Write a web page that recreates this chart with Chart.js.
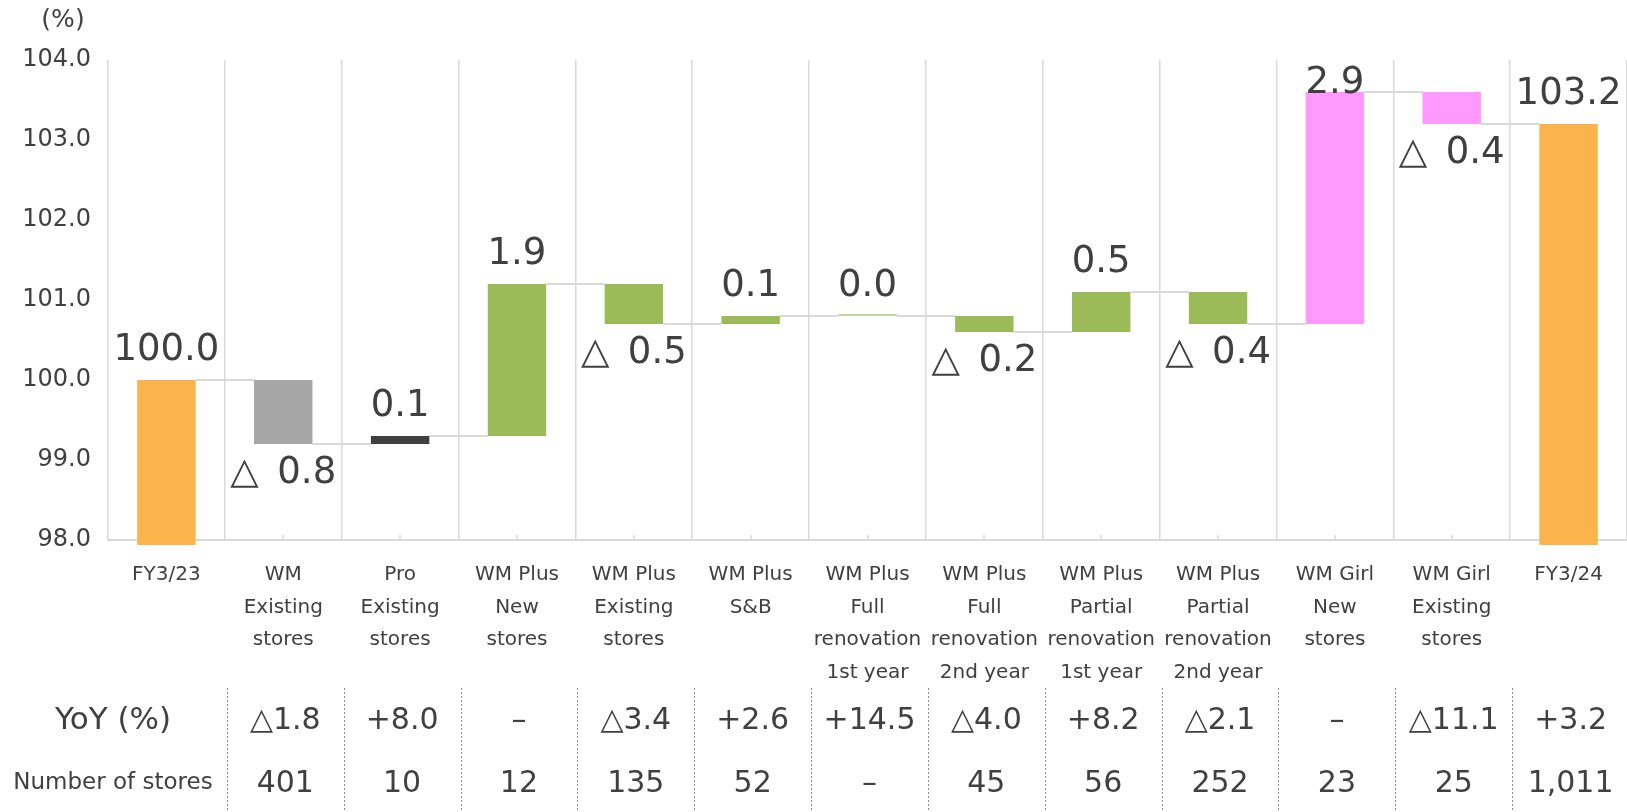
<!DOCTYPE html>
<html>
<head>
<meta charset="utf-8">
<script src="https://cdn.jsdelivr.net/npm/chart.js@4/dist/chart.umd.min.js"></script>
<style>
    body { margin: 0; background: #ffffff; }
    #wrap { position: relative; width: 1627px; height: 812px; }
</style>
</head>
<body>
<div id="wrap"><canvas id="myChartWaterfall"></canvas></div>
<script>
var categories = [
    ['FY3/23'],
    ['WM', 'Existing', 'stores'],
    ['Pro', 'Existing', 'stores'],
    ['WM Plus', 'New', 'stores'],
    ['WM Plus', 'Existing', 'stores'],
    ['WM Plus', 'S&B'],
    ['WM Plus', 'Full', 'renovation', '1st year'],
    ['WM Plus', 'Full', 'renovation', '2nd year'],
    ['WM Plus', 'Partial', 'renovation', '1st year'],
    ['WM Plus', 'Partial', 'renovation', '2nd year'],
    ['WM Girl', 'New', 'stores'],
    ['WM Girl', 'Existing', 'stores'],
    ['FY3/24']
];
var startValue = 100.0;
var changes = [-0.8, 0.1, 1.9, -0.5, 0.1, 0.0, -0.2, 0.5, -0.4, 2.9, -0.4];
var endValue = 103.2;
var barColors = ['#FBB34C', '#A6A6A6', '#404040', '#9BBB59', '#9BBB59', '#9BBB59', '#C4D79B',
    '#9BBB59', '#9BBB59', '#9BBB59', '#FF99FF', '#FF99FF', '#FBB34C'];
var yTicks = [98, 99, 100, 101, 102, 103, 104];
var yoyValues = ['△1.8', '+8.0', '–', '△3.4', '+2.6', '+14.5', '△4.0', '+8.2', '△2.1', '–', '△11.1', '+3.2'];
var storeCounts = ['401', '10', '12', '135', '52', '–', '45', '56', '252', '23', '25', '1,011'];

// waterfall: floating bars + running level after each bar
var floating = [[0, startValue]];
var levels = [startValue];
var texts = [startValue.toFixed(1)];
var below = [false];
var level = startValue;
changes.forEach(function (c) {
    floating.push([level, level + c]);
    level = Math.round((level + c) * 10) / 10;
    levels.push(level);
    texts.push(c < 0 ? '△\u2002' + Math.abs(c).toFixed(1) : c.toFixed(1));
    below.push(c < 0);
});
floating.push([0, endValue]);
levels.push(endValue);
texts.push(endValue.toFixed(1));
below.push(false);

var FONT = "'DejaVu Sans', Verdana, sans-serif";
var TEXT = '#404040';

const connectorPlugin = {
    id: 'connectors',
    beforeDatasetsDraw(chart) {
        const meta = chart.getDatasetMeta(0);
        const x = chart.scales.x;
        const y = chart.scales.y;
        const c = chart.ctx;
        c.save();
        c.strokeStyle = '#D9D9D9';
        c.lineWidth = 2;
        for (let i = 0; i < meta.data.length - 1; i++) {
            const a = meta.data[i], b = meta.data[i + 1];
            const py = Math.round(y.getPixelForValue(levels[i]));
            c.beginPath();
            c.moveTo(a.x + a.width / 2, py);
            c.lineTo(b.x - b.width / 2, py);
            c.stroke();
        }
        // small inner tick marks at category centres
        c.lineWidth = 1.5;
        for (let i = 0; i < categories.length; i++) {
            const tx = Math.round(x.getPixelForValue(i));
            c.beginPath();
            c.moveTo(tx, chart.chartArea.bottom);
            c.lineTo(tx, chart.chartArea.bottom - 5);
            c.stroke();
        }
        c.restore();
    }
};

const labelPlugin = {
    id: 'barLabels',
    afterDatasetsDraw(chart) {
        const y = chart.scales.y;
        const meta = chart.getDatasetMeta(0);
        const c = chart.ctx;
        c.save();
        c.font = '37px ' + FONT;
        c.fillStyle = TEXT;
        c.textAlign = 'center';
        c.textBaseline = 'middle';
        meta.data.forEach(function (bar, i) {
            let py;
            if (below[i]) {
                py = y.getPixelForValue(Math.min(floating[i][0], floating[i][1])) + 29;
            } else {
                py = y.getPixelForValue(Math.max(floating[i][0], floating[i][1])) - 30;
                py = Math.max(py, chart.chartArea.top + 23);
            }
            c.fillText(texts[i], bar.x, py);
        });
        c.restore();
    }
};

const tablePlugin = {
    id: 'storeTable',
    afterDraw(chart) {
        const x = chart.scales.x;
        const c = chart.ctx;
        const half = (x.getPixelForValue(1) - x.getPixelForValue(0)) / 2;
        c.save();
        c.fillStyle = TEXT;
        c.textAlign = 'center';
        c.textBaseline = 'middle';
        c.font = '25px ' + FONT;
        c.fillText('(%)', 63, 20);

        c.font = '31px ' + FONT;
        c.fillText('YoY (%)', 113, 721);
        c.font = '23px ' + FONT;
        c.fillText('Number of stores', 113, 783);

        c.font = '30px ' + FONT;
        for (let i = 0; i < yoyValues.length; i++) {
            const cx = x.getPixelForValue(i + 1) + 2;
            c.fillText(yoyValues[i], cx, 721);
            c.fillText(storeCounts[i], cx, 784);
        }

        c.strokeStyle = '#8C8C8C';
        c.lineWidth = 1;
        c.setLineDash([2, 2]);
        for (let i = 1; i <= yoyValues.length; i++) {
            const sx = Math.round(x.getPixelForValue(i) - half + 2) + 0.5;
            c.beginPath();
            c.moveTo(sx, 688);
            c.lineTo(sx, 812);
            c.stroke();
        }
        c.restore();
    }
};

const ctxWaterfall = document.getElementById('myChartWaterfall');

var myChartWaterfall = new Chart(ctxWaterfall, {
    type: 'bar',
    data: {
        labels: categories,
        datasets: [{
            data: floating,
            backgroundColor: barColors,
            borderWidth: 0,
            barPercentage: 0.5,
            categoryPercentage: 1,
            minBarLength: 2,
            clip: { left: 0, top: 0, right: 0, bottom: 5 }
        }]
    },
    options: {
        responsive: true,
        maintainAspectRatio: false,
        animation: false,
        layout: {
            padding: { top: 60, left: 0, right: 0, bottom: 0 }
        },
        scales: {
            x: {
                afterFit: function (scale) { scale.height = 272; },
                grid: {
                    offset: true,
                    color: '#D9D9D9',
                    lineWidth: 1.5,
                    drawTicks: false
                },
                border: { color: '#D9D9D9', width: 2 },
                ticks: {
                    autoSkip: false,
                    maxRotation: 0,
                    padding: 19,
                    color: TEXT,
                    font: { family: FONT, size: 20, lineHeight: 1.62 }
                }
            },
            y: {
                min: 98,
                max: 104,
                afterFit: function (scale) { scale.width = 108; },
                afterBuildTicks: function (axis) {
                    axis.ticks = yTicks.map(function (v) { return { value: v }; });
                },
                grid: { display: false, drawTicks: false },
                border: { display: false },
                ticks: {
                    padding: 17,
                    color: TEXT,
                    font: { family: FONT, size: 24 },
                    callback: function (v) { return Number(v).toFixed(1); }
                }
            }
        },
        plugins: {
            legend: { display: false },
            tooltip: { enabled: false }
        }
    },
    plugins: [connectorPlugin, labelPlugin, tablePlugin]
});
</script>
</body>
</html>
